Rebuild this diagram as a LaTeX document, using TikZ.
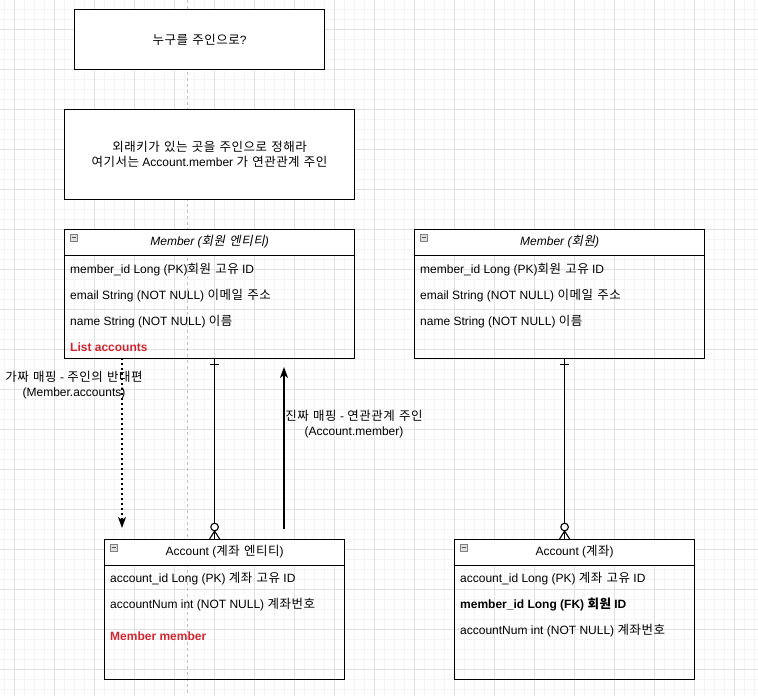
\documentclass[tikz,border=0pt]{standalone}
\usepackage{fontspec}
\setmainfont{Liberation Sans}
\newfontfamily\krfont[AutoFakeSlant=0.2,Scale=1.04,LetterSpace=4,WordSpace=1.3]{Noto Sans CJK KR}
\newcommand{\kr}[1]{{\krfont #1}}
\usetikzlibrary{arrows.meta}
\definecolor{fieldred}{RGB}{207,38,48}
\definecolor{minorgrid}{RGB}{245,245,245}
\definecolor{majorgrid}{RGB}{224,224,224}

\begin{document}
\begin{tikzpicture}[x=1pt,y=-1pt,
    every node/.style={font=\fontsize{12}{15}\selectfont},
    box/.style={draw,fill=white,line width=1.2pt,anchor=north west,align=center},
    tablebody/.style={draw,line width=1.2pt,anchor=north west,inner sep=0pt},
    tablehead/.style={draw,fill=white,line width=1.2pt,anchor=north west,minimum height=26,text height=9,text depth=3},
    field/.style={anchor=base west,inner sep=0pt},
    keyfield/.style={field,text=fieldred,font=\fontsize{12}{15}\selectfont\bfseries},
    collapse/.style={draw=gray,fill=gray!25,minimum size=7,inner sep=0pt,line width=0.6pt,
        path picture={\draw[black!70,line width=0.8pt] ([xshift=1.5pt]path picture bounding box.west) -- ([xshift=-1.5pt]path picture bounding box.east);}},
    rel/.style={line width=1.1pt},
    fake/.style={line width=1.6pt,dash pattern=on 1.6pt off 3.4pt,-{Stealth[length=11pt,width=8pt,inset=3pt]}},
    real/.style={line width=1.1pt,-{Stealth[length=11pt,width=8pt,inset=3pt]}},
    note/.style={align=center}]
    \useasboundingbox (0,0) rectangle (758,696);
    \fill[white] (0,0) rectangle (758,696);
    \foreach \x in {4,14,...,754} \draw[minorgrid,line width=0.8pt] (\x,0) -- (\x,696);
    \foreach \y in {9,19,...,689} \draw[minorgrid,line width=0.8pt] (0,\y) -- (758,\y);
    \foreach \x in {14,54,...,734} \draw[majorgrid,line width=0.8pt] (\x,0) -- (\x,696);
    \foreach \y in {29,69,...,669} \draw[majorgrid,line width=0.8pt] (0,\y) -- (758,\y);
    \draw[gray!50,line width=0.8pt,dash pattern=on 3pt off 3pt] (187,0) -- (187,696);

    \node[box,minimum width=250,minimum height=60] (ask) at (74,9) {\kr{누구를 주인으로}?};
    \node[box,minimum width=290,minimum height=90] (rule) at (64,109)
        {\kr{외래키가 있는 곳을 주인으로 정해라}\\\kr{여기서는} Account.member \kr{가 연관관계 주인}};

    % Member (entity)
    \node[tablebody,minimum width=290,minimum height=129] (member) at (64,229) {};
    \node[tablehead,minimum width=290] (memberhead) at (64,229) {\itshape Member (\kr{회원 엔티티})};
    \node[collapse] (membericon) at (73.5,237.5) {};
    \node[field] (memberid) at (70,273) {member\_id Long (PK)\kr{회원 고유} ID};
    \node[field] (memberemail) at (70,299) {email String (NOT NULL) \kr{이메일 주소}};
    \node[field] (membername) at (70,325) {name String (NOT NULL) \kr{이름}};
    \node[keyfield] (memberaccounts) at (70,351) {List accounts};

    % Member (table)
    \node[tablebody,minimum width=290,minimum height=129] (membertab) at (414,229) {};
    \node[tablehead,minimum width=290] (membertabhead) at (414,229) {\itshape Member (\kr{회원})};
    \node[collapse] (membertabicon) at (423.5,237.5) {};
    \node[field] (membertabid) at (420,273) {member\_id Long (PK)\kr{회원 고유} ID};
    \node[field] (membertabemail) at (420,299) {email String (NOT NULL) \kr{이메일 주소}};
    \node[field] (membertabname) at (420,325) {name String (NOT NULL) \kr{이름}};

    % Account (entity)
    \node[tablebody,minimum width=240,minimum height=140] (account) at (104,539) {};
    \node[tablehead,minimum width=240] (accounthead) at (104,539) {Account (\kr{계좌 엔티티})};
    \node[collapse] (accounticon) at (113.5,547.5) {};
    \node[field] (accountid) at (110,582) {account\_id Long (PK) \kr{계좌 고유} ID};
    \node[field] (accountnum) at (110,608) {accountNum int (NOT NULL) \kr{계좌번호}};
    \node[keyfield] (accountmember) at (110,640) {Member member};

    % Account (table)
    \node[tablebody,minimum width=240,minimum height=140] (accounttab) at (454,539) {};
    \node[tablehead,minimum width=240] (accounttabhead) at (454,539) {Account (\kr{계좌})};
    \node[collapse] (accounttabicon) at (463.5,547.5) {};
    \node[field] (accounttabid) at (460,582) {account\_id Long (PK) \kr{계좌 고유} ID};
    \node[field,font=\fontsize{12}{15}\selectfont\bfseries] (accounttabfk) at (460,608) {member\_id Long (FK) \kr{회원} ID};
    \node[field] (accounttabnum) at (460,634) {accountNum int (NOT NULL) \kr{계좌번호}};

    % one-to-many
    \foreach \m/\a in {member/account,membertab/accounttab}{
        \draw[rel] ([xshift=5pt]\m.south) coordinate (\m top) -- (\m top |- \a.north) coordinate (\a top);
        \draw[rel] (\m top) ++(-4.5,5) -- ++(9,0);
        \draw[rel,fill=white] (\a top) ++(0,-12) circle (3.8);
        \draw[rel] (\a top) ++(-5,0) -- ++(5,-8) -- ++(5,8);
    }

    \coordinate (fakefrom) at (122,358);
    \coordinate (faketo) at (122,528);
    \draw[fake] (fakefrom) -- (faketo);
    \node[note] (fakelabel) at (74,385) {\kr{가짜 매핑} - \kr{주인의 반대편}\\(Member.accounts)};

    \coordinate (realfrom) at (284,529);
    \coordinate (realto) at (284,367);
    \draw[real] (realfrom) -- (realto);
    \node[note] (reallabel) at (354,424) {\kr{진짜 매핑} - \kr{연관관계 주인}\\(Account.member)};
\end{tikzpicture}
\end{document}
